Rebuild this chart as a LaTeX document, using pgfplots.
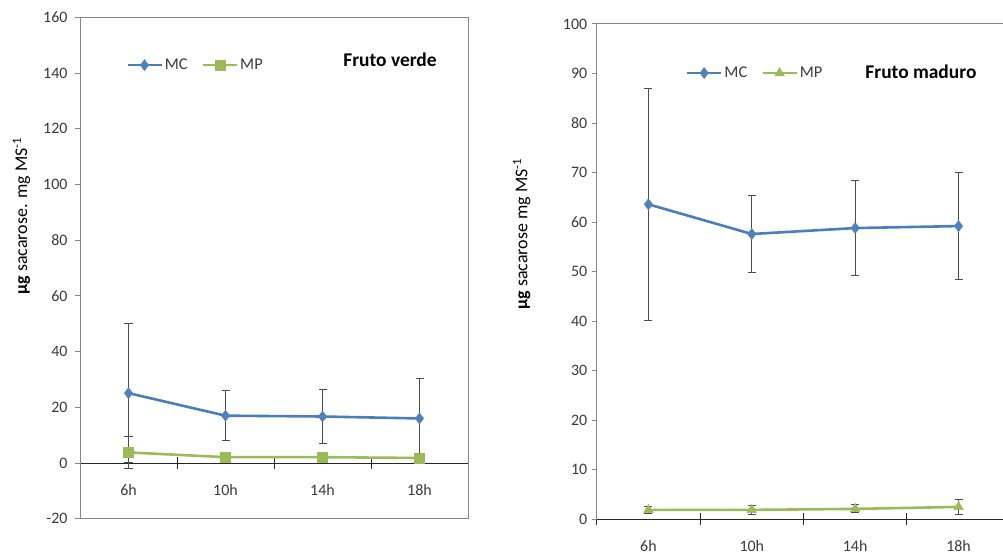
\documentclass[border=0pt]{standalone}
\usepackage{pgfplots}
\pgfplotsset{compat=1.18}
\usepackage{fontspec}
\setmainfont{Carlito}

\definecolor{mcblue}{HTML}{4A7EBB}
\definecolor{mcmark}{HTML}{4F81BD}
\definecolor{mpgreen}{HTML}{9BBB59}
\definecolor{axgray}{HTML}{868686}
\definecolor{ticktext}{HTML}{3A3A3A}

\pgfplotsset{
  panel/.style={
    scale only axis, anchor=south west,
    xmin=0.5,
    axis y line=left,
    axis x line=#1,
    every inner x axis line/.append style={-},
    every outer x axis line/.append style={-},
    every inner y axis line/.append style={-},
    every outer y axis line/.append style={-},
    y axis line style={-, draw=axgray, line width=1bp},
    x axis line style={-, draw=black!85, line width=1bp},
    xtick={1,2,3,4}, xticklabels={6h,10h,14h,18h},
    minor xtick={0.5,1.5,2.5,3.5},
    xtick align=center, ytick align=outside,
    major tick length=5bp, minor tick length=12bp,
    major x tick style={draw=none},
    minor x tick style={draw=black!85, line width=0.8bp},
    ytick style={draw=axgray, line width=1bp},
    hide obscured x ticks=false,
    tick label style={font=\fontsize{16}{19}\selectfont, text=ticktext},
    xticklabel style={yshift=-15bp},
    /pgf/number format/assume math mode=true,
    legend columns=2,
    legend style={draw=none, fill=none, inner sep=0pt, anchor=west,
      font=\fontsize{16.5}{19}\selectfont, text=ticktext,
      /tikz/every even column/.append style={column sep=12bp}},
    legend image code/.code={
      \draw[##1, mark=none] (0bp,0bp) -- (34bp,0bp);
      \draw[##1, only marks] plot coordinates {(17bp,0bp)};
    },
    ylabel style={anchor=center, font=\fontsize{18}{21}\selectfont, text=black},
    error bars/y dir=both, error bars/y explicit,
    error bars/error bar style={draw=black!70, line width=0.9bp},
    error bars/error mark options={draw=black!70, line width=0.9bp, mark size=4bp, rotate=90},
  },
  mcline/.style={color=mcblue, line width=2.6bp, mark=diamond*, mark size=5.5bp,
    mark options={fill=mcmark, draw=mcmark, line width=0.5bp}},
  mpline/.style={color=mpgreen, line width=2.6bp,
    mark options={fill=mpgreen, draw=mpgreen, line width=0.5bp}},
}

\begin{document}
\begin{tikzpicture}
\path[use as bounding box] (0bp,0bp) rectangle (1003bp,556bp);

% Fruto verde
\begin{axis}[panel=middle,
  at={(80bp,37.3bp)}, width=388bp, height=501.2bp,
  xmax=4.5, ymin=-20, ymax=160, ytick={-20,0,...,160},
  yticklabel style={xshift=-4bp},
  ylabel={\textbf{µg} sacarose. mg MS\textsuperscript{-1}},
  ylabel style={at={(rel axis cs:-0.151,0.604)}},
  legend style={at={(rel axis cs:0.1186,0.905)}},
  extra description/.code={
    \draw[axgray, line width=1bp] (rel axis cs:0,1) -- (rel axis cs:1,1) -- (rel axis cs:1,0) -- (rel axis cs:0,0);
    \node[font=\fontsize{19.5}{22}\selectfont\bfseries] at (rel axis cs:0.799,0.915) {Fruto verde};
  },
]
\addplot[mcline] coordinates {
  (1,25.1) +- (0,25.0)
  (2,17.0) +- (0,8.9)
  (3,16.7) +- (0,9.8)
  (4,16.0) +- (0,14.5)
};
\addplot[mpline, mark=square*, mark size=5bp] coordinates {
  (1,3.8) +- (0,5.6)
  (2,2.1) +- (0,1.0)
  (3,2.1) +- (0,1.0)
  (4,1.8) +- (0,1.0)
};
\legend{MC,MP}
\end{axis}

% Fruto maduro
\begin{axis}[panel=bottom,
  at={(596.7bp,36.7bp)}, width=406.3bp, height=495.3bp,
  xmax=4.43, ymin=0, ymax=100, ytick={0,10,...,100},
  yticklabel style={xshift=-1bp},
  ylabel={\textbf{µg} sacarose mg MS\textsuperscript{-1}},
  ylabel style={at={(rel axis cs:-0.1846,0.576)}},
  legend style={at={(rel axis cs:0.219,0.901)}},
  extra description/.code={
    \draw[axgray, line width=1bp] (rel axis cs:0,1) -- (rel axis cs:1,1);
    \node[font=\fontsize{19.5}{22}\selectfont\bfseries] at (rel axis cs:0.798,0.903) {Fruto maduro};
  },
]
\addplot[mcline] coordinates {
  (1,63.6) +- (0,23.4)
  (2,57.6) +- (0,7.7)
  (3,58.8) +- (0,9.6)
  (4,59.2) +- (0,10.8)
};
\addplot[mpline, mark=triangle*, mark size=5.5bp] coordinates {
  (1,1.9) +- (0,0.7)
  (2,1.9) +- (0,0.9)
  (3,2.1) +- (0,0.8)
  (4,2.5) +- (0,1.45)
};
\legend{MC,MP}
\end{axis}
\end{tikzpicture}
\end{document}
